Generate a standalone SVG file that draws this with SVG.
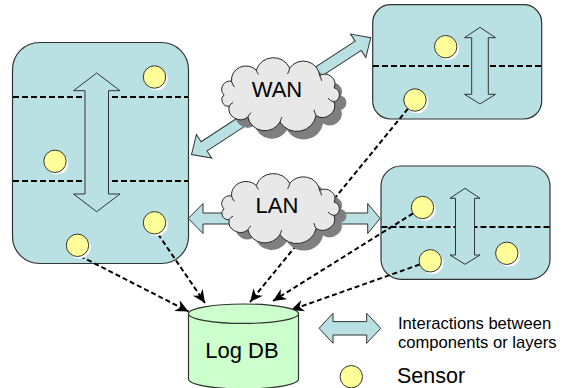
<svg xmlns="http://www.w3.org/2000/svg" xmlns:xlink="http://www.w3.org/1999/xlink" width="566" height="388" viewBox="0 0 566 388">
<style>
.box{fill:#b9e0e3;stroke:#333;stroke-width:1.2}
.layer{stroke:#000;stroke-width:2;stroke-dasharray:6 3;fill:none}
.barrow{fill:#b9e0e3;stroke:#333;stroke-width:1}
.sensor{fill:#ffff99;stroke:#333;stroke-width:1}
.sshadow{fill:#fff}
.cloud{fill:#e8e8e8;stroke:#222;stroke-width:1}
.cdetail{fill:none;stroke:#222;stroke-width:1}
.cshadow{fill:#7f7f7f}
.conn{stroke:#000;stroke-width:2;stroke-dasharray:5 3;fill:none;marker-end:url(#ah)}
text{font-family:"Liberation Sans",Arial,sans-serif;fill:#000}
</style>
<defs>
<marker id="ah" markerUnits="userSpaceOnUse" markerWidth="14" markerHeight="12" refX="13" refY="6" orient="auto" viewBox="0 0 14 12">
<path d="M0,0 L13,6 L0,12 L4,6 Z" fill="#000"/>
</marker>
<path id="cloudShape" d="M4,40 A8.4,8.4 0 0 1 11.5,26 A14.5,14.5 0 0 1 36.3,14.6 A17.8,17.8 0 0 1 69.7,12.4 A16.4,16.4 0 0 1 99.6,20.2 A10.1,10.1 0 0 1 114.1,32.7 A7.7,7.7 0 0 1 114.1,47.3 A12.2,12.2 0 0 1 96,61.4 A19.4,19.4 0 0 1 60,68 A17.2,17.2 0 0 1 27.9,62.9 A11.5,11.5 0 0 1 9.2,51.8 A6.8,6.8 0 0 1 4,40 Z"/>
<path id="cloudDetail" d="M11.5,26 A14,14 0 0 0 14.5,32 M36.3,14.6 A14,14 0 0 0 38.5,19 M69.7,12.4 A16,16 0 0 1 67.5,18.5 M99.6,20.2 A10,10 0 0 1 101.5,25.5 M114.1,47.3 A10,10 0 0 1 108,43.5 M96,61.4 A18,18 0 0 1 94,55.5 M60,68 A18,18 0 0 1 62,63 M27.9,62.9 A12,12 0 0 1 31,58.5 M9.2,51.8 A8,8 0 0 1 13,48"/>
</defs>

<!-- left system -->
<g id="leftSystem">
<rect class="box" x="12.5" y="42.5" width="176" height="221" rx="27"/>
<line class="layer" x1="13" y1="97" x2="188" y2="97"/>
<line class="layer" x1="13" y1="181" x2="188" y2="181"/>
<path class="barrow" d="M96.7,73 L120,90.7 L108.5,90.7 L108.5,194 L120,194 L96.7,211.7 L73.5,194 L85,194 L85,90.7 L73.5,90.7 Z"/>
</g>

<!-- top right system -->
<g id="topRightSystem">
<rect class="box" x="372.7" y="4.7" width="169" height="114.3" rx="18"/>
<line class="layer" x1="373" y1="66" x2="541" y2="66"/>
<path class="barrow" d="M480,27.3 L495.5,37.7 L488.3,37.7 L488.3,94.3 L495.5,94.3 L480,104 L464.5,94.3 L471.7,94.3 L471.7,37.7 L464.5,37.7 Z"/>
</g>

<!-- bottom right system -->
<g id="bottomRightSystem">
<rect class="box" x="381" y="166" width="169" height="113.3" rx="20"/>
<line class="layer" x1="381.5" y1="227" x2="549.5" y2="227"/>
<path class="barrow" d="M465,188.3 L480,198.3 L474.5,198.3 L474.5,255 L480,255 L465,264.3 L450,255 L455.5,255 L455.5,198.3 L450,198.3 Z"/>
</g>

<!-- connectors -->
<g id="connectors">
<line class="conn" x1="80" y1="256" x2="188.5" y2="311.5"/>
<line class="conn" x1="158" y1="234" x2="205" y2="303"/>
<line class="conn" x1="407.9" y1="108.7" x2="250" y2="302"/>
<line class="conn" x1="413" y1="213.4" x2="273" y2="301"/>
<line class="conn" x1="419.7" y1="264.5" x2="291" y2="310"/>
<path class="barrow" transform="translate(191.5,154.5) rotate(-33.1)" d="M0,0 L15,-14 L15,-5.5 L199,-5.5 L199,-14 L214,0 L199,14 L199,5.5 L15,5.5 L15,14 Z"/>
<path class="barrow" d="M188.3,218.5 L203,203.5 L203,213 L367.7,213 L367.7,203.5 L380,218.5 L367.7,233.5 L367.7,224 L203,224 L203,233.5 Z"/>
</g>

<!-- sensors -->
<g id="sensors">
<circle class="sshadow" cx="156.5" cy="79" r="11.2"/><circle class="sensor" cx="154.5" cy="77" r="11.2"/>
<circle class="sshadow" cx="57" cy="163.3" r="11.2"/><circle class="sensor" cx="55" cy="161.3" r="11.2"/>
<circle class="sshadow" cx="156.5" cy="224.8" r="11.2"/><circle class="sensor" cx="154.5" cy="222.8" r="11.2"/>
<circle class="sshadow" cx="79.5" cy="247.3" r="11.2"/><circle class="sensor" cx="77.5" cy="245.3" r="11.2"/>
<circle class="sshadow" cx="447.7" cy="48.7" r="11.2"/><circle class="sensor" cx="445.7" cy="46.7" r="11.2"/>
<circle class="sshadow" cx="417" cy="102" r="11.2"/><circle class="sensor" cx="415" cy="100" r="11.2"/>
<circle class="sshadow" cx="424.5" cy="209.5" r="11.2"/><circle class="sensor" cx="422.5" cy="207.5" r="11.2"/>
<circle class="sshadow" cx="432.3" cy="262.8" r="11.2"/><circle class="sensor" cx="430.3" cy="260.8" r="11.2"/>
<circle class="sshadow" cx="508.8" cy="255.3" r="11.2"/><circle class="sensor" cx="506.8" cy="253.3" r="11.2"/>
</g>

<!-- WAN cloud -->
<g id="wan">
<use xlink:href="#cloudShape" href="#cloudShape" class="cshadow" transform="translate(227,64) scale(1,0.97)"/>
<use xlink:href="#cloudShape" href="#cloudShape" class="cloud" transform="translate(220,56) scale(1,0.97)"/>
<use xlink:href="#cloudDetail" href="#cloudDetail" class="cdetail" transform="translate(220,56) scale(1,0.97)"/>
<text x="277" y="97" font-size="22" text-anchor="middle">WAN</text>
</g>

<!-- LAN cloud -->
<g id="lan">
<use xlink:href="#cloudShape" href="#cloudShape" class="cshadow" transform="translate(227,179) scale(1,0.92)"/>
<use xlink:href="#cloudShape" href="#cloudShape" class="cloud" transform="translate(220,172) scale(1,0.92)"/>
<use xlink:href="#cloudDetail" href="#cloudDetail" class="cdetail" transform="translate(220,172) scale(1,0.92)"/>
<text x="277" y="213" font-size="22" text-anchor="middle">LAN</text>
</g>

<!-- Log DB -->
<g id="logdb">
<path d="M188.5,313.7 L188.5,379 A55,10 0 0 0 298.5,379 L298.5,313.7" fill="#ccffcc" stroke="#333" stroke-width="1.2"/>
<ellipse cx="243.5" cy="313.7" rx="55" ry="9.7" fill="#ccffcc" stroke="#333" stroke-width="1.2"/>
<text x="242" y="358.3" font-size="22" text-anchor="middle">Log DB</text>
</g>

<!-- legend -->
<g id="legend">
<path class="barrow" d="M319,328.3 L333,313.3 L333,321.6 L366.7,321.6 L366.7,313.3 L380.7,328.3 L366.7,343.3 L366.7,335 L333,335 L333,343.3 Z"/>
<text x="398" y="329" font-size="16.6">Interactions between</text>
<text x="398" y="347.5" font-size="16.6">components or layers</text>
<circle class="sshadow" cx="353.3" cy="378.7" r="11.2"/><circle class="sensor" cx="351.3" cy="376.7" r="11.2"/>
<text x="397" y="383.3" font-size="21.5">Sensor</text>
</g>
</svg>
